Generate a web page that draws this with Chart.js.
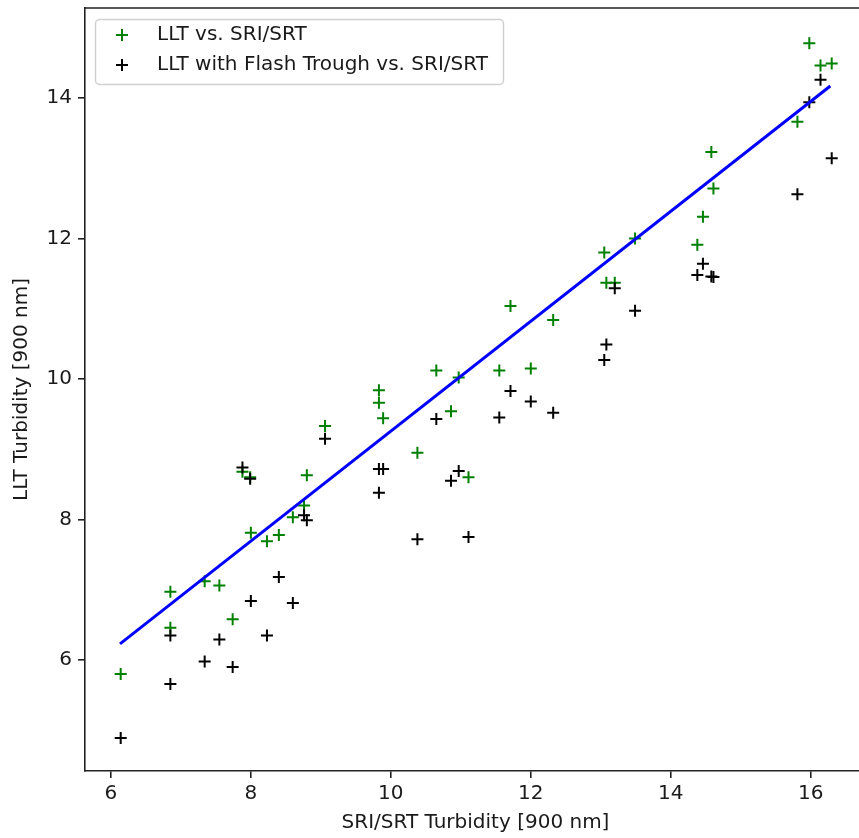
<!DOCTYPE html>
<html>
<head>
<meta charset="utf-8">
<title>LLT vs SRI/SRT Turbidity</title>
<script src="https://cdn.jsdelivr.net/npm/chart.js@4.4.0/dist/chart.umd.min.js"></script>
<style>
  html, body { margin: 0; padding: 0; background: #fff; overflow: hidden; width: 859px; height: 838px; }
  #wrap { width: 880px; height: 838px; }
</style>
</head>
<body>
<div id="wrap"><canvas id="chart" width="880" height="838"></canvas></div>
<script>
// SRI/SRT turbidity (x) shared by both series
const sriX = [6.14, 6.85, 6.85, 7.34, 7.55, 7.74, 7.88, 7.99, 8.00, 8.23, 8.40, 8.60, 8.76, 8.80, 9.06,
              9.83, 9.83, 9.89, 10.38, 10.65, 10.86, 10.97, 11.11, 11.55, 11.71, 12.00, 12.32,
              13.05, 13.08, 13.20, 13.49, 14.38, 14.46, 14.58, 14.61, 15.81, 15.98, 16.14, 16.30];
// LLT turbidity
const lltY = [5.80, 6.97, 6.46, 7.12, 7.06, 6.58, 8.68, 8.60, 7.81, 7.69, 7.78, 8.03, 8.20, 8.63, 9.33,
              9.84, 9.66, 9.44, 8.95, 10.12, 9.54, 10.02, 8.60, 10.12, 11.04, 10.15, 10.84,
              11.80, 11.37, 11.37, 12.00, 11.91, 12.31, 13.23, 12.71, 13.66, 14.78, 14.46, 14.49];
// LLT with flash trough
const flashY = [4.89, 6.35, 5.66, 5.98, 6.29, 5.90, 8.74, 8.58, 6.84, 6.35, 7.18, 6.81, 8.06, 7.99, 9.15,
                8.72, 8.38, 8.72, 7.72, 9.43, 8.55, 8.69, 7.75, 9.45, 9.83, 9.68, 9.52,
                10.27, 10.49, 11.29, 10.97, 11.48, 11.64, 11.46, 11.45, 12.63, 13.94, 14.26, 13.14];
// fitted line end points
const fitX = [6.13, 16.28];
const fitY = [6.23, 14.17];

const xTicks = [6, 8, 10, 12, 14, 16];
const yTicks = [6, 8, 10, 12, 14];
const legendLabels = ['LLT vs. SRI/SRT', 'LLT with Flash Trough vs. SRI/SRT'];
const legendColors = ['#008000', '#000000'];

const FONT = '"DejaVu Sans", sans-serif';
const TEXT = '#1a1a1a';

function points(xs, ys) {
    return xs.map((x, i) => ({ x: x, y: ys[i] }));
}

function drawPlus(ctx, x, y, r, color) {
    ctx.strokeStyle = color;
    ctx.lineWidth = 2;
    ctx.beginPath();
    ctx.moveTo(x - r, y); ctx.lineTo(x + r, y);
    ctx.moveTo(x, y - r); ctx.lineTo(x, y + r);
    ctx.stroke();
}

// top spine and a matplotlib style legend box
const framePlugin = {
    id: 'frame',
    afterDraw(chart) {
        const ctx = chart.ctx;
        const a = chart.chartArea;
        ctx.save();
        ctx.strokeStyle = '#222';
        ctx.lineWidth = 1.6;
        ctx.beginPath();
        ctx.moveTo(a.left, a.top);
        ctx.lineTo(a.right + 20, a.top);
        ctx.stroke();

        // legend
        const bx = 95.5, by = 19.5, bw = 408, bh = 65, r = 4;
        ctx.beginPath();
        ctx.moveTo(bx + r, by);
        ctx.lineTo(bx + bw - r, by);
        ctx.arcTo(bx + bw, by, bx + bw, by + r, r);
        ctx.lineTo(bx + bw, by + bh - r);
        ctx.arcTo(bx + bw, by + bh, bx + bw - r, by + bh, r);
        ctx.lineTo(bx + r, by + bh);
        ctx.arcTo(bx, by + bh, bx, by + bh - r, r);
        ctx.lineTo(bx, by + r);
        ctx.arcTo(bx, by, bx + r, by, r);
        ctx.closePath();
        ctx.fillStyle = 'rgba(255,255,255,0.8)';
        ctx.fill();
        ctx.strokeStyle = '#d0d0d0';
        ctx.lineWidth = 1.5;
        ctx.stroke();

        ctx.font = '20px ' + FONT;
        ctx.textBaseline = 'middle';
        ctx.textAlign = 'left';
        legendLabels.forEach((label, i) => {
            const y = 35 + i * 30;
            drawPlus(ctx, 122, y, 6, legendColors[i]);
            ctx.fillStyle = TEXT;
            ctx.fillText(label, 157, y);
        });
        ctx.restore();
    }
};

// no extra room for tick labels at the plot edges
function noEdgePadding(scale) {
    scale.paddingTop = 0;
    scale.paddingBottom = 0;
    scale.paddingLeft = 0;
    scale.paddingRight = 0;
}

const axisCommon = {
    type: 'linear',
    border: { display: true, color: '#222', width: 1.6 },
    grid: { drawOnChartArea: false, drawTicks: true, tickLength: 7, color: '#222', lineWidth: 1.6 },
    ticks: { color: TEXT, font: { family: FONT, size: 20 } }
};

new Chart(document.getElementById('chart'), {
    type: 'scatter',
    data: {
        datasets: [
            {
                label: 'fit',
                data: points(fitX, fitY),
                showLine: true,
                borderColor: '#0000ff',
                borderWidth: 3,
                pointRadius: 0,
                order: 1
            },
            {
                label: legendLabels[1],
                data: points(sriX, flashY),
                pointStyle: 'cross',
                pointRadius: 6,
                borderColor: '#000000',
                borderWidth: 2,
                order: 2
            },
            {
                label: legendLabels[0],
                data: points(sriX, lltY),
                pointStyle: 'cross',
                pointRadius: 6,
                borderColor: '#008000',
                borderWidth: 2,
                order: 3
            }
        ]
    },
    options: {
        responsive: false,
        animation: false,
        events: [],
        layout: { autoPadding: false, padding: { top: 8, right: 14, left: 0, bottom: 0 } },
        plugins: {
            legend: { display: false },
            tooltip: { enabled: false }
        },
        scales: {
            x: Object.assign({}, axisCommon, {
                min: 5.63,
                max: 16.79,
                afterFit: function(scale) { scale.height = 67; noEdgePadding(scale); },
                afterBuildTicks: function(scale) { scale.ticks = xTicks.map(v => ({ value: v })); },
                ticks: Object.assign({}, axisCommon.ticks, { padding: 4, maxRotation: 0 }),
                title: {
                    display: true,
                    text: 'SRI/SRT Turbidity [900 nm]',
                    color: TEXT,
                    font: { family: FONT, size: 20 },
                    padding: { top: 0, bottom: 3 }
                }
            }),
            y: Object.assign({}, axisCommon, {
                min: 4.42,
                max: 15.28,
                afterFit: function(scale) { scale.width = 85; noEdgePadding(scale); },
                afterBuildTicks: function(scale) { scale.ticks = yTicks.map(v => ({ value: v })); },
                ticks: Object.assign({}, axisCommon.ticks, { padding: 6 }),
                title: {
                    display: true,
                    text: 'LLT Turbidity [900 nm]',
                    color: TEXT,
                    font: { family: FONT, size: 20 },
                    padding: { top: 10, bottom: 0 }
                }
            })
        }
    },
    plugins: [framePlugin]
});
</script>
</body>
</html>
